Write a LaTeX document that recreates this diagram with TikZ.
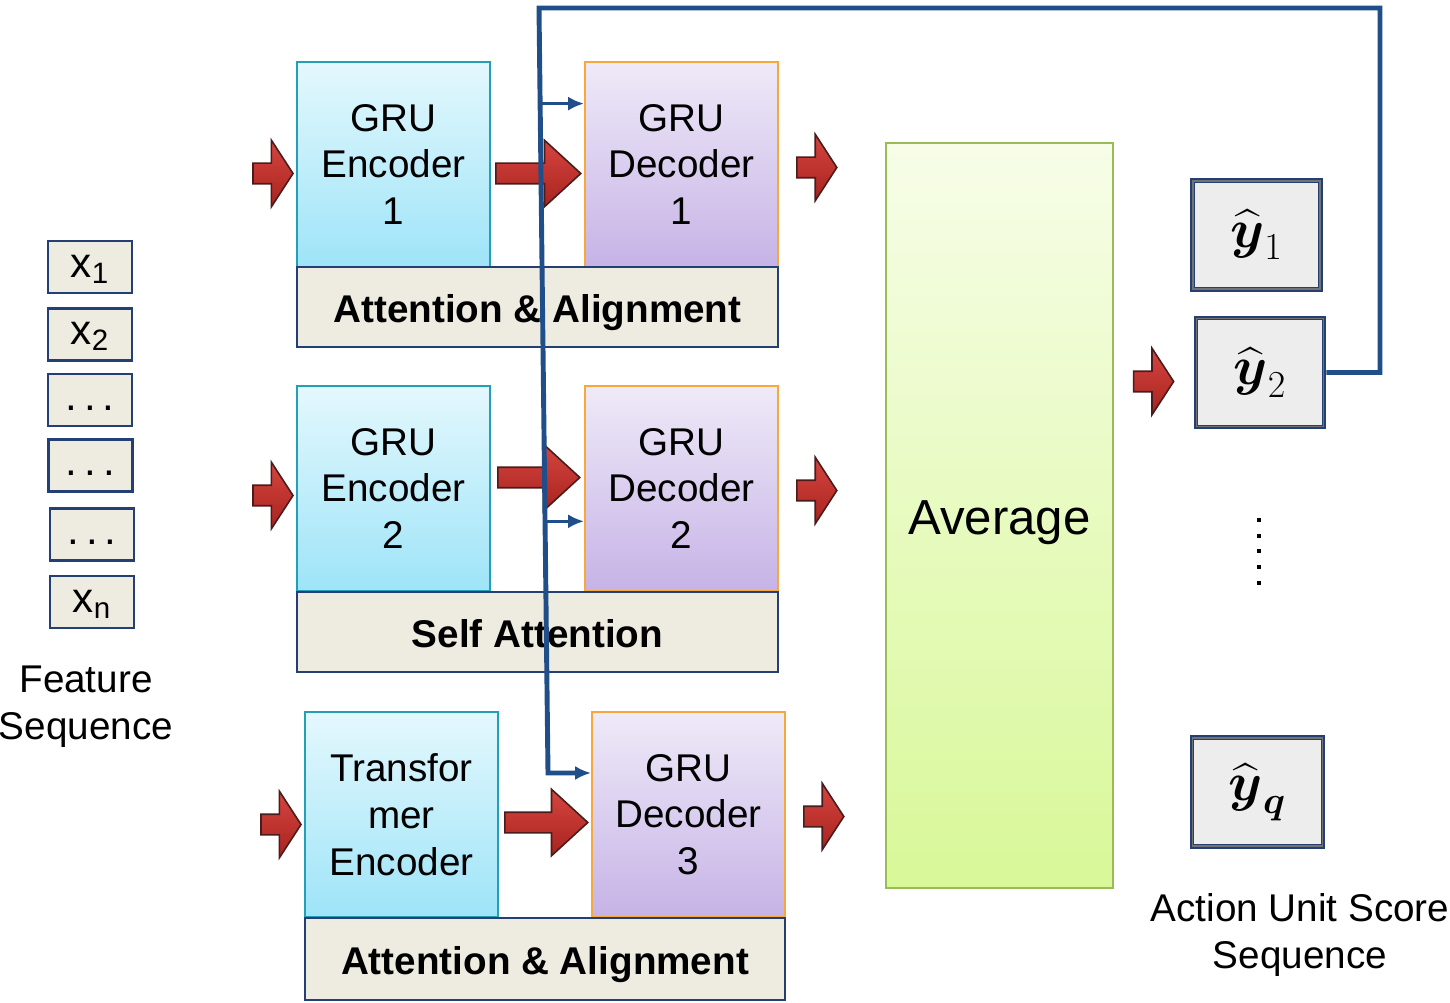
\RequirePackage{fix-cm}
\documentclass[tikz,border=0pt]{standalone}
\usepackage{amsmath}
\usepackage{fontspec}
\setmainfont{Liberation Sans}
\usetikzlibrary{shapes.arrows,calc,arrows.meta}
\definecolor{encline}{HTML}{23A0B6}
\definecolor{enctop}{HTML}{E4F8FD}
\definecolor{encbot}{HTML}{9EE4F8}
\definecolor{decline}{HTML}{F6A93A}
\definecolor{dectop}{HTML}{EFEAF8}
\definecolor{decbot}{HTML}{C6B3E6}
\definecolor{avgline}{HTML}{9BBB59}
\definecolor{avgtop}{HTML}{F7FDE8}
\definecolor{avgbot}{HTML}{D8F898}
\definecolor{barfill}{HTML}{EEECE1}
\definecolor{navy}{HTML}{243F73}
\definecolor{fbblue}{HTML}{1F4E89}
\definecolor{redtop}{HTML}{D6453F}
\definecolor{redbot}{HTML}{A8231F}
\definecolor{redline}{HTML}{4A1C1C}
\begin{document}
\begin{tikzpicture}[x=0.02cm,y=-0.02cm,>={Latex[length=9pt,width=8pt]},
  txt/.style={font=\fontsize{22}{26.6}\selectfont,align=center,inner sep=0},
  enc/.style={txt,draw=encline,line width=1.2pt,top color=enctop,bottom color=encbot,
    minimum width=3.86cm,minimum height=4.1cm},
  dec/.style={enc,draw=decline,top color=dectop,bottom color=decbot},
  bar/.style={txt,font=\fontsize{22}{26.6}\selectfont\bfseries,draw=navy,line width=1.3pt,
    fill=barfill,minimum width=9.62cm,minimum height=1.6cm,text height=18pt,text depth=0pt},
  xbox/.style={txt,font=\fontsize{24}{26}\selectfont,draw=navy,line width=1.6pt,fill=barfill,
    minimum width=1.68cm,minimum height=1.04cm,text height=17pt,text depth=5.6pt},
  ybox/.style={draw=navy,line width=2.8pt,fill=black!7,minimum width=2.56cm,minimum height=2.18cm,
    font=\fontsize{31}{34}\selectfont},
  redarrow/.style={single arrow,draw=redline,line width=0.9pt,top color=redtop,bottom color=redbot,
    single arrow head extend=0.46cm,inner xsep=0,inner ysep=0.19cm},
  smallarrow/.style={redarrow,minimum height=0.8cm,single arrow tip angle=114},
  midarrow/.style={redarrow,minimum height=1.7cm,single arrow tip angle=85},
  fbline/.style={draw=fbblue,line width=2.8pt},
  fbtap/.style={draw=fbblue,line width=1.7pt}]
\useasboundingbox (0,0) rectangle (1450,1003);
% feature sequence
\node[xbox] (x1) at (90,267) {x\textsubscript{1}};
\node[xbox] (x2) at (90,334.5) {x\textsubscript{2}};
\node[xbox] (x3) at (90,400) {.\,.\,.};
\node[xbox] (x4) at (90.5,465.5) {.\,.\,.};
\node[xbox] (x5) at (92,534.5) {.\,.\,.};
\node[xbox] (xn) at (92,602) {x\textsubscript{n}};
\node[txt] (feat) at (86,707) {Feature\\Sequence};
% three encoder-decoder branches
\node[enc] (enc1) at (393.5,164.5) {GRU\\Encoder\\1};
\node[dec] (dec1) at (681.5,164.5) {GRU\\Decoder\\1};
\node[bar] (att1) at (537.5,307) {Attention \& Alignment};
\node[enc] (enc2) at (393.5,488.5) {GRU\\Encoder\\2};
\node[dec] (dec2) at (681.5,488.5) {GRU\\Decoder\\2};
\node[bar] (att2) at (537.5,632) {Self Attention};
\node[enc] (enc3) at (401.5,814.5) {Transfor\\mer\\Encoder};
\node[dec] (dec3) at (688.5,814.5) {GRU\\Decoder\\3};
\node[bar,minimum width=9.6cm,minimum height=1.64cm] (att3) at (545,959) {Attention \& Alignment};
% red block arrows
\node[smallarrow,anchor=tip] (in1) at ($(enc1.west)+(-2,9)$) {};
\node[smallarrow,anchor=tip] (in2) at ($(enc2.west)+(-2,7)$) {};
\node[smallarrow,anchor=tip] (in3) at ($(enc3.west)+(-2,10)$) {};
\node[midarrow,anchor=tip] (mid1) at ($(dec1.west)+(-2,9)$) {};
\node[midarrow,anchor=tip,minimum height=1.64cm] (mid2) at ($(dec2.west)+(-3,-11)$) {};
\node[midarrow,anchor=tip,minimum height=1.66cm] (mid3) at ($(dec3.west)+(-2,8)$) {};
\node[smallarrow,anchor=tail] (out1) at ($(dec1.east)+(17,3)$) {};
\node[smallarrow,anchor=tail] (out2) at ($(dec2.east)+(17,2)$) {};
\node[smallarrow,anchor=tail] (out3) at ($(dec3.east)+(17,2)$) {};
% average and scores
\node[txt,font=\fontsize{28}{30}\selectfont,draw=avgline,line width=1.2pt,top color=avgtop,bottom color=avgbot,
  minimum width=4.54cm,minimum height=14.9cm,text height=22pt,text depth=0pt] (avg) at (999.5,515.5) {Average};
\node[ybox] (y1) at (1256.5,235) {$\widehat{\boldsymbol{y}}_{1}$};
\node[ybox] (y2) at (1260,372.5) {$\widehat{\boldsymbol{y}}_{2}$};
\node[ybox,minimum width=2.62cm] (yq) at (1257.5,792) {$\widehat{\boldsymbol{y}}_{\boldsymbol{q}}$};
\foreach \b in {y1,y2,yq}
  \draw[black!55,line width=0.8pt] ($(\b.north west)+(3,3)$) rectangle ($(\b.south east)+(-3,-3)$);
\node[smallarrow,anchor=tip] (in4) at ($(y2.west)+(-19,9)$) {};
\foreach \k in {0,...,4}
  \fill (1257,518+\k*15.7) rectangle ++(4,4);
\node[txt] (aus) at (1300,935) {Action Unit Score\\Sequence};
% feedback of the previous score
\coordinate (fbcorner) at (1380,8);
\coordinate (fbtop) at (539,8);
\coordinate (fbbot) at (548,773);
\coordinate (tap1) at ($(fbtop)!0.125!(fbbot)$);
\coordinate (tap2) at ($(fbtop)!0.671!(fbbot)$);
\draw[fbline,->] (y2.east) -| (fbcorner) -- (fbtop) -- (fbbot) -- (fbbot -| dec3.west);
\draw[fbtap,->] (tap1) -- (tap1 -| dec1.west);
\draw[fbtap,->] (tap2) -- (tap2 -| dec2.west);
\end{tikzpicture}
\end{document}
